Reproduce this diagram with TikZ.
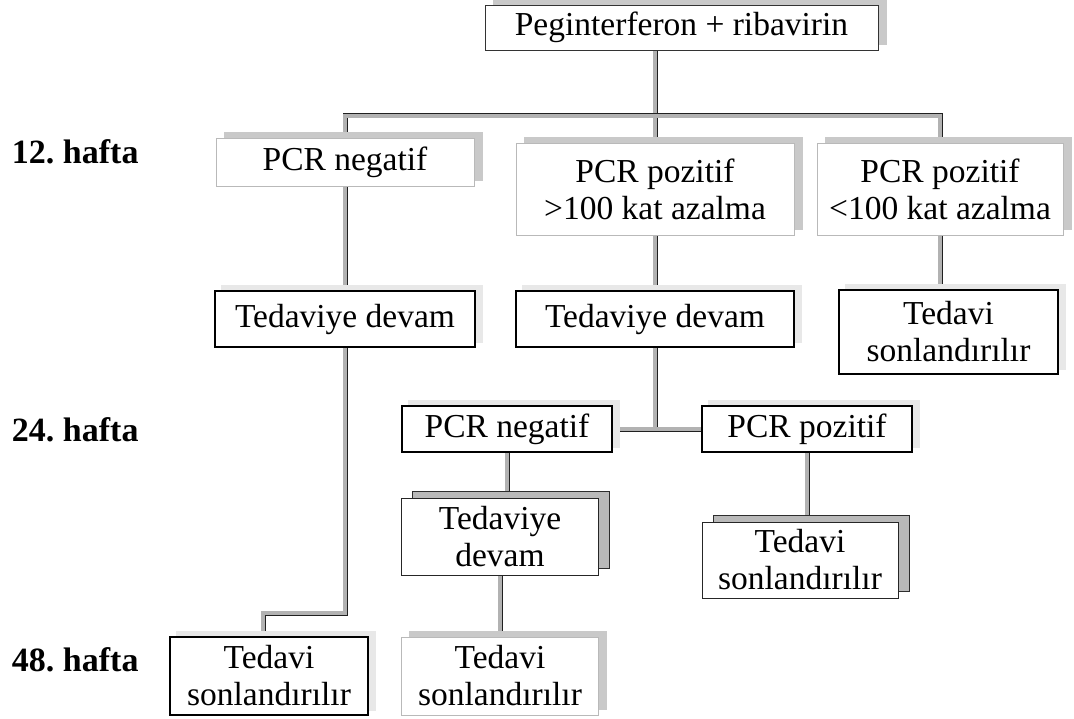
\documentclass[tikz,border=0pt]{standalone}
\usepackage{fontspec}
\setmainfont{Liberation Serif}
\usetikzlibrary{shadows,backgrounds}
\begin{document}
\begin{tikzpicture}[x=1pt,y=-1pt,
  every node/.style={inner sep=0pt, outer sep=0pt, font=\fontsize{33.5}{37}\selectfont, align=center},
  lightbox/.style={rectangle, fill=white, draw=gray!55, line width=0.8pt,
    copy shadow={shadow xshift=8pt, shadow yshift=6pt, fill=gray!42, draw=gray!42}},
  blackbox/.style={rectangle, fill=white, draw=black, line width=1.6pt,
    copy shadow={shadow xshift=7pt, shadow yshift=5pt, fill=gray!18, draw=gray!18}},
  dblbox/.style={rectangle, fill=white, draw=gray!30!black, line width=1pt,
    copy shadow={shadow xshift=11pt, shadow yshift=7pt, fill=gray!55, draw=gray!35!black}},
  weeklabel/.style={anchor=base west, font=\fontsize{34}{38}\selectfont\bfseries},
  conn/.style={draw=gray!25!black, line width=0.8pt, double=gray!60, double distance=3.4pt, line join=miter}
]
\useasboundingbox (0,0) rectangle (1074,719);

% nodes
\node[lightbox, draw=gray!40!black, minimum width=393pt, minimum height=45pt] (top) at (681.5,27.5) {Peginterferon + ribavirin};

\node[lightbox, minimum width=258pt, minimum height=48pt] (n12neg) at (345,162) {PCR negatif};
\node[lightbox, minimum width=278pt, minimum height=92pt] (p12a) at (655,189) {PCR pozitif\\>100 kat azalma};
\node[lightbox, minimum width=246pt, minimum height=92pt] (p12b) at (940,189) {PCR pozitif\\<100 kat azalma};

\node[blackbox, minimum width=260pt, minimum height=56pt] (t12a) at (345,319) {Tedaviye devam};
\node[blackbox, minimum width=278pt, minimum height=56pt] (t12b) at (655,319) {Tedaviye devam};
\node[blackbox, minimum width=219pt, minimum height=84pt] (s12c) at (948.5,332) {Tedavi\\sonlandırılır};

\node[blackbox, minimum width=210pt, minimum height=46pt] (n24) at (507,429) {PCR negatif};
\node[blackbox, minimum width=210pt, minimum height=46pt] (p24) at (807,429) {PCR pozitif};

\node[dblbox, minimum width=197pt, minimum height=77pt] (t24) at (500,536.5) {Tedaviye\\devam};
\node[dblbox, minimum width=196pt, minimum height=76pt] (s24) at (800,560) {Tedavi\\sonlandırılır};

\node[blackbox, minimum width=198pt, minimum height=78pt] (s48a) at (269,676) {Tedavi\\sonlandırılır};
\node[lightbox, minimum width=197pt, minimum height=78pt] (s48b) at (500,676) {Tedavi\\sonlandırılır};

% week labels
\node[weeklabel] (w12) at (12,164) {12.\ hafta};
\node[weeklabel] (w24) at (12,441) {24.\ hafta};
\node[weeklabel] (w48) at (12,671) {48.\ hafta};

% connectors
\begin{scope}[on background layer]
\coordinate (bar) at (655,116);
\coordinate (e1) at (263,613);
\draw[conn] (top.south -| p12a.north) -- (p12a.north);
\draw[conn] (n12neg.north) -- (n12neg.north |- bar) -- (p12b.north |- bar) -- (p12b.north);
\draw[conn] (n12neg.south) -- (t12a.north);
\draw[conn] (p12a.south) -- (t12b.north);
\draw[conn] (p12b.south) -- (p12b.south |- s12c.north);
\draw[conn] (t12a.south) |- (e1) -- (e1 |- s48a.north);
\draw[conn] (t12b.south) -- (t12b.south |- n24.east);
\draw[conn] (n24.east) -- (p24.west);
\draw[conn] (n24.south) -- (n24.south |- t24.north);
\draw[conn] (t24.south) -- (s48b.north);
\draw[conn] (p24.south) -- (p24.south |- s24.north);
\end{scope}
\end{tikzpicture}
\end{document}
